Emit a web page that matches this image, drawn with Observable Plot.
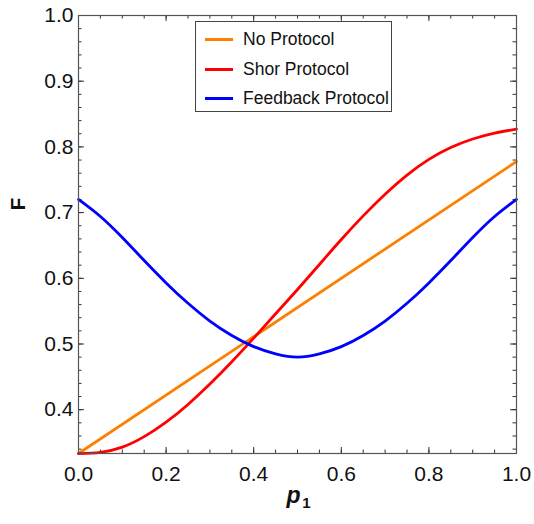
<!DOCTYPE html>
<html>
<head>
<meta charset="utf-8">
<script src="https://cdn.jsdelivr.net/npm/d3@7"></script>
<script src="https://cdn.jsdelivr.net/npm/@observablehq/plot@0.6"></script>
<style>
  html, body { margin: 0; padding: 0; background: #fff; }
  #wrap { position: relative; width: 534px; height: 524px; font-family: "Liberation Sans", Arial, sans-serif; }
  #legend { position: absolute; left: 195px; top: 21px; width: 197px; height: 91px; border: 1px solid #444; background: #fff; box-sizing: border-box; }
  .row { position: absolute; left: 0; height: 20px; display: flex; align-items: center; font-size: 17.5px; color: #111; }
  .sw { width: 28px; height: 3px; margin-left: 9px; margin-right: 10px; }
</style>
</head>
<body>
<div id="wrap"></div>
<script>
// ---- data ----
const pValues = [0, 0.05, 0.1, 0.15, 0.2, 0.25, 0.3, 0.35, 0.4, 0.45, 0.5,
                 0.55, 0.6, 0.65, 0.7, 0.75, 0.8, 0.85, 0.9, 0.95, 1];
const shorF = [0.333, 0.335, 0.343, 0.359, 0.381, 0.408, 0.439, 0.473, 0.509, 0.546, 0.583,
               0.621, 0.659, 0.695, 0.728, 0.757, 0.781, 0.799, 0.812, 0.821, 0.827];
const feedbackF = [0.720, 0.694, 0.662, 0.627, 0.593, 0.562, 0.535, 0.513, 0.496, 0.485, 0.480,
                   0.485, 0.496, 0.513, 0.535, 0.562, 0.593, 0.627, 0.662, 0.694, 0.720];
const noProtocolP = [0, 1];
const noProtocolF = [0.3333, 0.7778];

const seriesNames = ["No Protocol", "Shor Protocol", "Feedback Protocol"];
const seriesColors = ["#FF8000", "#FF0000", "#0000FF"];

const xMajor = [0, 0.2, 0.4, 0.6, 0.8, 1.0];
const xMinor = d3.range(0, 21).map(i => i * 0.05);
const yMajor = [0.4, 0.5, 0.6, 0.7, 0.8, 0.9, 1.0];
const yMinor = d3.range(17, 51).map(i => i * 0.02);

// ---- build tables ----
const rows = [];
noProtocolP.forEach((p, i) => rows.push({p, F: noProtocolF[i], s: seriesNames[0]}));
pValues.forEach((p, i) => rows.push({p, F: shorF[i], s: seriesNames[1]}));
pValues.forEach((p, i) => rows.push({p, F: feedbackF[i], s: seriesNames[2]}));

const W = 534, H = 524, mt = 15, mr = 18, mb = 71, ml = 78;
const innerH = H - mt - mb, innerW = W - ml - mr;
const font = '"Liberation Sans", Arial, sans-serif';
const majorLen = 6, minorLen = 3.5;
const tickStroke = "#333";

const chart = Plot.plot({
  width: W, height: H,
  marginTop: mt, marginRight: mr, marginBottom: mb, marginLeft: ml,
  style: {fontFamily: font, background: "#fff"},
  x: {domain: [0, 1]},
  y: {domain: [1 / 3, 1]},
  color: {domain: seriesNames, range: seriesColors},
  marks: [
    Plot.tickX(xMajor, {x: d => d, insetTop: innerH - majorLen, stroke: tickStroke}),
    Plot.tickX(xMinor, {x: d => d, insetTop: innerH - minorLen, stroke: tickStroke}),
    Plot.tickX(xMajor, {x: d => d, insetBottom: innerH - majorLen, stroke: tickStroke}),
    Plot.tickX(xMinor, {x: d => d, insetBottom: innerH - minorLen, stroke: tickStroke}),
    Plot.tickY(yMajor, {y: d => d, insetRight: innerW - majorLen, stroke: tickStroke}),
    Plot.tickY(yMinor, {y: d => d, insetRight: innerW - minorLen, stroke: tickStroke}),
    Plot.tickY(yMajor, {y: d => d, insetLeft: innerW - majorLen, stroke: tickStroke}),
    Plot.tickY(yMinor, {y: d => d, insetLeft: innerW - minorLen, stroke: tickStroke}),
    Plot.axisX(xMajor, {tickSize: 0, tickPadding: 13, tickFormat: d => d.toFixed(1), fontSize: 21, fill: "#111", label: null}),
    Plot.axisY(yMajor, {tickSize: 0, tickPadding: 5, tickFormat: d => d.toFixed(1), fontSize: 21, fill: "#111", label: null}),
    Plot.line(rows, {x: "p", y: "F", z: "s", stroke: "s", strokeWidth: 2.8, curve: "natural"}),
    Plot.frame({stroke: "#555", strokeWidth: 1.2}),
    Plot.text(["F"], {frameAnchor: "left", dx: -60, dy: -24, rotate: -90, fontSize: 21, fontWeight: "bold", fill: "#111"}),
    Plot.text(["p"], {frameAnchor: "bottom", dx: -4, dy: 49, fontSize: 23, fontWeight: "bold", fontStyle: "italic", fill: "#111"}),
    Plot.text(["1"], {frameAnchor: "bottom", dx: 9, dy: 54, fontSize: 15, fontWeight: "bold", fill: "#111"})
  ]
});

const wrap = document.getElementById("wrap");
wrap.appendChild(chart);

// legend (HTML overlay)
const legend = document.createElement("div");
legend.id = "legend";
const rowTops = [7, 37, 66];
seriesNames.forEach((name, i) => {
  const r = document.createElement("div");
  r.className = "row";
  r.style.top = rowTops[i] + "px";
  const sw = document.createElement("span");
  sw.className = "sw";
  sw.style.background = seriesColors[i];
  const t = document.createElement("span");
  t.textContent = name;
  r.appendChild(sw); r.appendChild(t);
  legend.appendChild(r);
});
wrap.appendChild(legend);
</script>
</body>
</html>
